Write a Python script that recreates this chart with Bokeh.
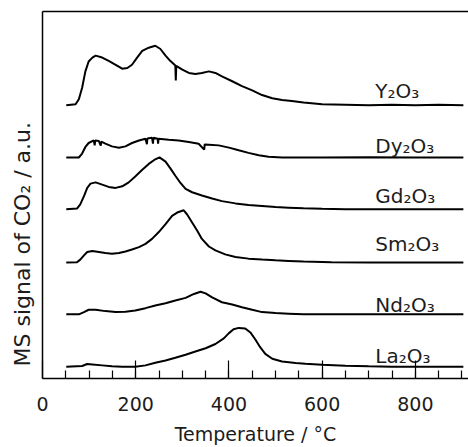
import numpy as np
from bokeh.plotting import figure
from bokeh.models import FixedTicker, LinearAxis, Range1d, Title
from bokeh.core.properties import value
from bokeh.embed import file_html
from bokeh.resources import INLINE

# ---------------- data ----------------
oxides = ["Y₂O₃", "Dy₂O₃", "Gd₂O₃", "Sm₂O₃", "Nd₂O₃", "La₂O₃"]
offsets = [27.7, 22.4, 17.15, 11.75, 6.5, 1.2]        # stacking offset of each trace (a.u.)
label_y = [29.1, 23.6, 18.5, 13.6, 7.5, 2.3]          # vertical position of each name (a.u.)
label_T = 714                                         # temperature where names start

x_major = [0, 200, 400, 600, 800]
x_minor = [50, 100, 150, 200, 250, 300, 350, 400, 450, 500, 550, 600, 650, 700, 750, 800, 850, 900]

y_T = [51, 71, 78, 85, 92, 99, 107, 114, 128, 142, 157, 171, 182, 192, 203, 214, 228, 242, 253, 264,
       274, 285, 286, 287, 300, 314, 328, 342, 357, 371, 385, 407, 428, 450, 471, 493, 514, 535, 560,
       600, 650, 700, 750, 800, 850, 903]
y_sig = [0, 0.1, 0.6, 1.77, 3.43, 4.43, 4.83, 5.03, 4.83, 4.5, 4.1, 3.7, 3.77, 4.1, 4.83, 5.5, 5.83,
         6.03, 5.7, 5.03, 4.5, 4.03, 2.5, 3.98, 3.6, 3.27, 3.17, 3.27, 3.43, 3.27, 2.93, 2.43, 1.93,
         1.5, 1.03, 0.7, 0.53, 0.43, 0.27, 0.1, 0.05, 0.0, 0.05, 0.0, 0.05, 0.0]

dy_T = [51, 78, 85, 92, 99, 110, 112, 113, 121, 125, 126, 135, 149, 164, 178, 192, 207, 221, 224, 225,
        235, 237, 238, 247, 248, 249, 271, 292, 314, 335, 347, 348, 357, 378, 400, 421, 442, 464, 485,
        514, 600, 700, 800, 903]
dy_sig = [0, 0, 0.4, 1.07, 1.47, 1.73, 1.23, 1.72, 1.67, 1.2, 1.62, 1.4, 1.13, 1.0, 1.13, 1.47, 1.73,
          1.9, 1.35, 1.92, 2.0, 1.4, 2.0, 1.9, 1.4, 1.9, 1.8, 1.73, 1.57, 1.4, 0.8, 1.33, 1.3, 1.23,
          1.0, 0.73, 0.47, 0.23, 0.07, 0, 0, 0.02, 0, 0]

gd_T = [51, 74, 81, 89, 96, 103, 114, 128, 142, 157, 171, 185, 199, 214, 228, 242, 251, 264, 274, 285,
        296, 307, 321, 342, 364, 385, 414, 442, 471, 500, 528, 560, 600, 650, 700, 800, 903]
gd_sig = [0, 0.07, 0.5, 1.33, 2.17, 2.6, 2.73, 2.5, 2.27, 2.17, 2.33, 2.73, 3.33, 4.0, 4.6, 5.07, 5.27,
          4.83, 4.17, 3.4, 2.67, 2.07, 1.73, 1.4, 1.1, 0.83, 0.6, 0.43, 0.33, 0.23, 0.17, 0.1, 0.05,
          0, 0, 0, 0]

sm_T = [51, 74, 81, 89, 96, 107, 121, 135, 149, 164, 178, 192, 207, 221, 235, 249, 264, 278, 289, 303,
        310, 321, 332, 342, 357, 371, 392, 414, 442, 471, 500, 528, 560, 620, 700, 800, 903]
sm_sig = [0, 0.03, 0.3, 0.73, 1.07, 1.17, 1.07, 0.97, 0.9, 0.97, 1.13, 1.33, 1.57, 1.9, 2.4, 3.07, 3.9,
          4.73, 5.07, 5.3, 4.9, 4.07, 3.23, 2.4, 1.63, 1.23, 0.83, 0.57, 0.4, 0.3, 0.23, 0.17, 0.1,
          0.03, 0, 0, 0]

nd_T = [51, 78, 89, 99, 114, 135, 157, 178, 199, 221, 242, 264, 285, 307, 325, 339, 350, 364, 385, 407,
        428, 450, 471, 500, 528, 560, 650, 750, 903]
nd_sig = [0, 0, 0.23, 0.47, 0.47, 0.33, 0.23, 0.27, 0.4, 0.63, 0.9, 1.13, 1.4, 1.67, 2.07, 2.3, 2.13,
          1.73, 1.23, 1.0, 0.73, 0.47, 0.23, 0.13, 0.07, 0, 0, 0, 0]

la_T = [51, 85, 96, 107, 128, 149, 171, 199, 221, 242, 264, 285, 307, 328, 350, 371, 389, 400, 410, 421,
        435, 446, 457, 467, 478, 493, 514, 543, 564, 600, 650, 700, 750, 903]
la_sig = [0, 0.07, 0.27, 0.23, 0.13, 0.03, 0, 0, 0.13, 0.4, 0.63, 0.9, 1.2, 1.53, 1.87, 2.3, 2.87, 3.4,
          3.8, 3.93, 3.87, 3.47, 2.73, 1.97, 1.3, 0.8, 0.53, 0.37, 0.3, 0.2, 0.1, 0.03, 0, 0]

temps = [y_T, dy_T, gd_T, sm_T, nd_T, la_T]
signals = [y_sig, dy_sig, gd_sig, sm_sig, nd_sig, la_sig]

# ---------------- figure ----------------
FONT = "DejaVu Sans"
TXT = "#1c1c1c"

p = figure(width=468, height=447, output_backend="svg", toolbar_location=None,
           x_range=Range1d(0, 914), y_range=Range1d(0, 37.2),
           min_border_left=42, min_border_right=0, min_border_top=11, min_border_bottom=64)
p.outline_line_color = None
p.xgrid.visible = False
p.ygrid.visible = False
p.background_fill_color = "white"
p.border_fill_color = "white"

for T, s, off in zip(temps, signals, offsets):
    p.line(T, np.array(s) + off, line_color="black", line_width=2)

p.text(x=[label_T] * len(oxides), y=label_y, text=oxides,
       text_font=value(FONT), text_font_size="20px", text_color=TXT,
       text_align="left", text_baseline="alphabetic")

xa = p.xaxis[0]
xa.ticker = FixedTicker(ticks=x_major, minor_ticks=x_minor)
xa.major_tick_in = 18
xa.major_tick_out = 0
xa.minor_tick_in = 8
xa.minor_tick_out = 0
xa.axis_line_width = 1.5
xa.major_tick_line_width = 1.2
xa.minor_tick_line_width = 1.2
xa.major_label_text_font = FONT
xa.major_label_text_font_size = "19px"
xa.major_label_text_color = TXT
xa.major_label_standoff = 18
xa.axis_label = "Temperature / °C"
xa.axis_label_text_font = FONT
xa.axis_label_text_font_size = "19px"
xa.axis_label_text_font_style = "normal"
xa.axis_label_text_color = TXT
xa.axis_label_standoff = 9

ya = p.yaxis[0]
ya.ticker = FixedTicker(ticks=[])
ya.major_tick_in = 0
ya.major_tick_out = 0
ya.minor_tick_in = 0
ya.minor_tick_out = 0
ya.major_label_standoff = 0
ya.axis_line_width = 1.5
ya.major_label_text_font_size = "0px"

top = LinearAxis(ticker=FixedTicker(ticks=[]), major_tick_in=0, major_tick_out=0,
                 minor_tick_in=0, minor_tick_out=0, major_label_standoff=0,
                 major_label_text_font_size="0px", axis_line_width=1.5)
p.add_layout(top, "above")

ytitle = Title(text="MS signal of CO₂ / a.u.", align="left", offset=12, standoff=15,
               text_font=FONT, text_font_size="22px", text_font_style="normal",
               text_color=TXT)
p.add_layout(ytitle, "left")

open("out.html", "w").write(file_html(p, INLINE))
